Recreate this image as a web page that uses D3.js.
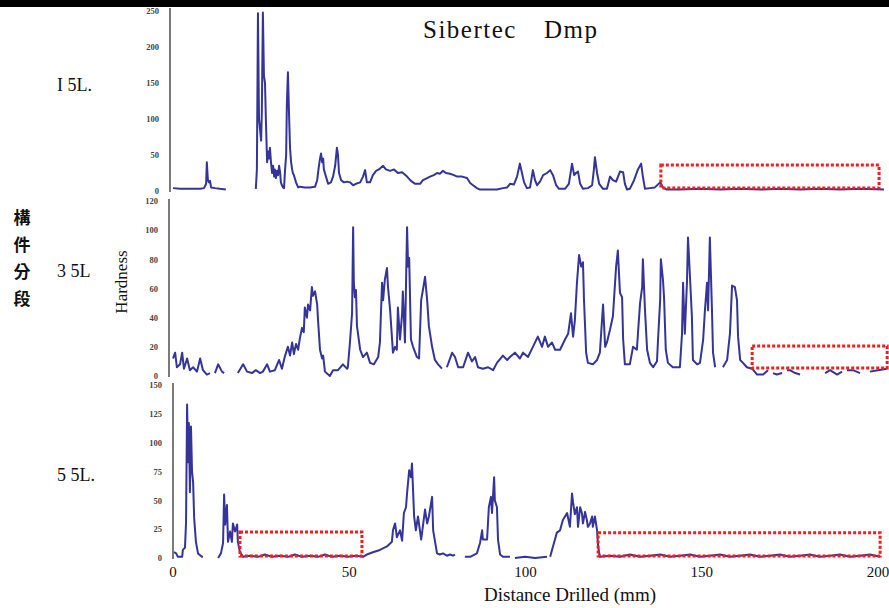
<!DOCTYPE html>
<html>
<head>
<meta charset="utf-8">
<script src="https://cdn.jsdelivr.net/npm/d3@7"></script>
<style>
  html, body { margin: 0; padding: 0; background: #fff; }
  svg { display: block; }
</style>
</head>
<body>
<div id="chart"></div>
<script>
// Drilling-resistance (hardness) profiles for three member segments.
// Distances in mm, hardness in instrument units; null marks a dropout in the trace.

const xTicks = [0, 50, 100, 150, 200];
const yTicks1 = [0, 50, 100, 150, 200, 250];
const yTicks2 = [0, 20, 40, 60, 80, 100, 120];
const yTicks3 = [0, 25, 50, 75, 100, 125, 150];

const segmentLabels = ["I 5L.", "3 5L", "5 5L."];

// Segment I 5L
const distance1 = [0, 2.0, 4.8, 7.7, 8.8, 9.4, 9.6, 9.9, 10.2, 10.5, 10.8, 11.9, 13.3, 15.0, 15.5,
  23.5, 23.8, 24.1, 24.4, 24.7, 25.0, 25.2, 25.5, 25.8, 26.1, 26.4, 26.7, 27.0, 27.2, 27.5, 27.8,
  28.1, 28.4, 28.7, 28.9, 29.2, 29.5, 29.8, 30.1, 30.4, 30.6, 30.9, 31.2, 31.5, 31.8, 32.1, 32.3,
  32.6, 32.9, 33.2, 33.5, 33.8, 34.0, 34.3, 34.9, 35.5, 36.0, 37.4, 38.9, 40.3, 40.9, 41.4, 41.7,
  42.0, 42.3, 42.6, 42.8, 43.4, 44.0, 44.8, 45.4, 46.0, 46.5, 46.8, 47.1, 47.7, 48.5, 49.4, 50.2,
  51.1, 51.9, 53.1, 53.9, 54.5, 55.0, 55.9, 56.7, 57.6, 58.4, 59.6, 60.4, 61.6, 62.7, 63.8, 65.0,
  66.4, 67.5, 68.7, 70.1, 70.9, 72.1, 72.9, 74.0, 74.9, 75.7, 76.6, 77.4, 78.6, 79.7, 80.6, 82.0,
  83.4, 84.3, 85.1, 86.2, 87.1, 89.9, 91.9, 93.6, 94.8, 95.6, 96.7, 97.6, 98.4, 99.0, 99.6, 100.4,
  101.3, 102.1, 102.7, 103.3, 104.1, 105.0, 106.1, 107.0, 107.8, 108.7, 109.5, 111.2, 112.3, 113.2,
  113.8, 114.3, 114.9, 115.5, 116.3, 117.7, 118.9, 119.4, 119.7, 120.3, 120.9, 122.0, 123.1, 124.0,
  124.8, 125.7, 126.8, 127.7, 128.2, 128.8, 129.6, 130.8, 131.9, 132.8, 133.3, 133.9, 135.3, 136.7,
  138.2, 139.0, 140.1, 143.8, 149.5, 155.2, 160.9, 166.5, 172.2, 177.9, 183.5, 189.2, 194.9, 201.7];
const hardness1 = [4, 3, 3, 3, 4, 10, 40, 15, 12, 14, 5, 4, 3, 2, null,
  3, 30, 247, 100, 85, 70, 110, 248, 160, 150, 90, 40, 55, 45, 60, 40,
  25, 35, 20, 30, 18, 28, 22, 35, 25, 12, 8, 5, 4, 30, 50, 120,
  165, 110, 60, 40, 30, 25, 22, 12, 5, 6, 5, 5, 6, 15, 35, 45,
  52, 40, 45, 30, 20, 10, 12, 20, 35, 60, 50, 25, 15, 12, 13, 12,
  8, 10, 12, 20, 29, 12, 12, 22, 28, 30, 35, 30, 28, 30, 25, 26,
  20, 14, 10, 10, 15, 18, 20, 22, 25, 24, 28, 25, 24, 22, 20, 20,
  18, 11, 8, 4, 2, 2, 2, 4, 5, 10, 9, 20, 38, 25, 12, 4,
  5, 29, 15, 8, 13, 22, 25, 29, 22, 8, 3, 3, 10, 38,
  22, 25, 27, 10, 3, 4, 8, 30, 47, 25, 10, 3, 3, 20,
  15, 13, 27, 26, 10, 2, 3, 15, 30, 38, 20, 3, 4, 5,
  12, 5, 2, 2, 3, 2, 3, 2, 3, 2, 3, 2, 3, 2];

// Segment 3 5L
const distance2 = [0, 0.6, 1.1, 2.0, 2.6, 3.1, 4.0, 4.8, 5.7, 6.8, 7.7, 8.5, 9.6, 10.5, 11.2,
  11.9, 12.8, 13.9, 14.5, 15.0, 18.4, 19.9, 21.0, 22.4, 23.5, 24.7, 25.5, 26.7, 27.5, 28.9, 30.1,
  30.9, 31.8, 32.6, 33.2, 33.8, 34.3, 34.9, 35.5, 36.0, 36.6, 37.1, 37.4, 38.0, 38.3, 38.9, 39.4,
  39.7, 40.3, 40.9, 41.1, 41.7, 42.3, 42.6, 43.1, 44.5, 45.4, 46.8, 48.2, 49.4, 49.6, 50.2, 50.8,
  51.1, 51.3, 51.6, 51.9, 52.2, 53.1, 53.9, 55.0, 55.9, 57.0, 58.2, 58.7, 59.3, 59.6, 60.1, 60.7,
  61.0, 61.6, 62.1, 62.4, 63.0, 63.5, 63.8, 64.4, 65.0, 65.2, 65.8, 66.4, 66.7, 67.0, 67.5, 68.1,
  69.2, 69.8, 70.4, 70.9, 71.5, 72.1, 72.6, 73.5, 74.3, 75.2, 76.3, 76.8, 77.7, 79.2, 80.0, 80.9,
  82.3, 83.7, 84.8, 85.7, 86.5, 87.9, 89.4, 90.8, 91.9, 93.6, 94.8, 95.6, 97.0, 98.4, 99.3, 100.7,
  102.1, 103.5, 104.7, 105.5, 106.4, 107.5, 108.4, 109.8, 111.2, 112.1, 112.9, 113.5, 114.0, 114.6,
  115.2, 115.8, 116.3, 116.6, 117.2, 117.7, 119.1, 120.3, 121.1, 122.0, 122.6, 123.1, 124.0, 124.8,
  125.7, 126.2, 126.8, 127.4, 127.7, 128.2, 129.6, 130.5, 131.6, 131.9, 132.5, 133.1, 133.3, 133.9,
  134.5, 135.3, 136.2, 137.3, 137.6, 138.2, 138.4, 139.0, 139.3, 139.8, 140.4, 141.8, 143.8, 144.4,
  144.7, 145.2, 145.8, 146.1, 146.7, 147.2, 147.5, 148.7, 149.5, 150.4, 150.9, 151.5, 151.8, 152.3,
  152.9, 153.2, 153.8, 154.3, 156.0, 157.2, 158.0, 158.6, 159.4, 160.0, 160.3, 160.9, 161.7, 162.8,
  164.3, 165.7, 167.4, 168.8, 169.5, 170.2, 171.3, 172.8, 173.5, 174.2, 175.0, 176.5, 177.9, 178.5,
  185.0, 186.4, 188.4, 189.8, 190.5, 191.2, 192.9, 194.9, 195.5, 197.7, 200.0, 202.5];
const hardness2 = [12, 16, 6, 8, 16, 5, 12, 4, 6, 3, 12, 4, 1, 2, null,
  2, 8, 3, 2, null, 2, 8, 3, 2, 4, 2, 3, 8, 3, 4, 11,
  5, 14, 20, 14, 23, 15, 22, 18, 26, 33, 30, 47, 40, 49, 45, 61,
  55, 58, 49, 40, 18, 12, 14, 3, 0, 4, 4, 8, 5, 6, 23, 43,
  102, 64, 54, 59, 34, 18, 13, 16, 9, 8, 13, 23, 64, 52, 66, 74,
  61, 45, 27, 16, 20, 18, 47, 25, 43, 58, 23, 102, 75, 81, 25, 20,
  13, 12, 52, 59, 68, 52, 34, 20, 11, 8, 5, null, 6, 16, 13, 6,
  6, 16, 10, 13, 6, 5, 6, 4, 9, 14, 11, 13, 16, 12, 16, 13,
  20, 27, 20, 27, 20, 23, 18, 18, 25, 29, 43, 27, 38, 64,
  83, 75, 78, 52, 16, 9, 8, 11, 16, 49, 20, 23, 32, 41,
  75, 86, 57, 54, 25, 8, 8, 20, 18, 29, 50, 61, 80, 45,
  18, 9, 6, 10, 25, 52, 80, 66, 54, 18, 9, 6, 6, 29,
  64, 29, 64, 95, 66, 41, 11, 8, 9, 25, 45, 64, 45, 95,
  45, 16, 6, null, 6, 11, 29, 62, 61, 52, 27, 11, 9, 6,
  5, 1, 1, 4, null, 2, 1, 2, null, 4, 4, 2, 1, null,
  2, 4, 1, 3, null, 4, 4, 2, null, 3, 4, 5];

// Segment 5 5L
const distance3 = [0.3, 0.9, 1.4, 2.6, 2.8, 3.4, 3.7, 4.0, 4.3, 4.5, 4.8, 5.1, 5.4, 5.7, 6.0,
  6.5, 7.1, 8.2, 8.5, 9.0, 12.8, 13.6, 14.2, 14.5, 14.8, 15.3, 15.6, 16.2, 16.7, 17.0, 17.6,
  18.2, 18.4, 19.0, 19.9, 21.8, 24.1, 26.1, 28.1, 30.4, 32.6, 34.6, 36.6, 38.9, 41.1, 43.1, 45.1,
  47.4, 49.6, 51.9, 53.9, 55.0, 56.7, 58.7, 60.7, 62.1, 62.4, 63.0, 63.5, 64.4, 65.0, 65.5, 66.1,
  66.4, 67.0, 67.5, 67.8, 68.4, 68.9, 69.5, 70.4, 71.5, 72.1, 72.6, 73.5, 73.8, 74.9, 75.7, 76.6,
  77.7, 78.6, 79.4, 80.0, 81.0, 82.8, 84.3, 86.2, 87.1, 87.7, 87.9, 89.1, 89.6, 90.2, 90.5, 91.1,
  91.3, 91.9, 92.2, 92.8, 93.6, 95.6, 96.5, 97.0, 99.9, 102.7, 106.1, 106.6, 107.0, 107.8, 108.9,
  109.8, 110.6, 111.8, 112.6, 113.2, 113.5, 114.0, 114.6, 114.9, 115.5, 116.0, 116.3, 116.9, 117.4,
  117.7, 118.3, 118.9, 119.1, 119.7, 120.3, 120.6, 121.1, 124.0, 126.8, 129.6, 132.5, 135.3, 138.2,
  141.0, 143.8, 146.7, 149.5, 152.3, 155.2, 158.0, 160.9, 163.7, 166.5, 169.4, 172.2, 175.0, 177.9,
  180.7, 183.5, 186.4, 189.2, 192.1, 194.9, 197.7, 200.6];
const hardness3 = [5, 4, 1, 1, 7, 9, 31, 133, 83, 117, 57, 114, 75, 66, 35,
  14, 4, 1, 1, null, 0, 4, 13, 55, 29, 46, 14, 23, 14, 30, 23,
  29, 14, 5, 1, 2, 1, 3, 1, 2, 1, 3, 1, 2, 1, 3, 1,
  2, 1, 2, 1, 3, 5, 7, 10, 14, 24, 30, 18, 24, 15, 39, 44,
  56, 76, 70, 82, 36, 24, 36, 16, 42, 30, 36, 53, 24, 4, 3, 4,
  2, 3, 2, 3, null, 1, 1, 4, 13, 24, 16, 16, 44, 53, 39, 70,
  50, 44, 16, 3, 1, 1, null, 0, 1, 0, 1, null, 1, 10, 22,
  24, 33, 39, 27, 56, 48, 38, 44, 27, 44, 39, 30, 40, 33,
  27, 30, 36, 27, 36, 24, 10, 1, 2, 1, 3, 1, 2, 3,
  1, 2, 3, 1, 2, 3, 1, 2, 3, 1, 2, 3, 1, 2,
  3, 1, 2, 3, 1, 2, 3, 1];

// Highlighted ranges: [distance from, distance to, hardness low, hardness high]
const highlight1 = [[138.4, 200.3, 4, 36]];
const highlight2 = [[164.3, 202.6, 5.5, 20.6]];
const highlight3 = [[19.0, 53.6, 1.7, 22.5], [120.6, 200.6, 1.7, 22.0]];

// ---- drawing ----
const W = 889, H = 608;
const serif = "'Liberation Serif', 'DejaVu Serif', serif";
const lineColor = "#1e1e8e";

const svg = d3.select("#chart").append("svg")
  .attr("width", W).attr("height", H)
  .attr("viewBox", `0 0 ${W} ${H}`);

// heavy rule across the top
svg.append("rect").attr("x", 0).attr("y", 0).attr("width", W).attr("height", 7).attr("fill", "#000");

const x = d3.scaleLinear().domain([0, 200]).range([173, 878]);

const panels = [
  { distance: distance1, hardness: hardness1, ticks: yTicks1, boxes: highlight1,
    label: segmentLabels[0], labelY: 91, yRange: [191, 11], axisTop: 8, axisX: 170 },
  { distance: distance2, hardness: hardness2, ticks: yTicks2, boxes: highlight2,
    label: segmentLabels[1], labelY: 277, yRange: [376, 201], axisTop: 199, axisX: 169 },
  { distance: distance3, hardness: hardness3, ticks: yTicks3, boxes: highlight3,
    label: segmentLabels[2], labelY: 481, yRange: [558, 385], axisTop: 383, axisX: 173 }
];

panels.forEach(p => {
  const y = d3.scaleLinear().domain([0, d3.max(p.ticks)]).range(p.yRange);
  const g = svg.append("g");

  // vertical axis line
  g.append("line")
    .attr("x1", p.axisX).attr("x2", p.axisX)
    .attr("y1", p.axisTop).attr("y2", y(0) + 1)
    .attr("stroke", "#7a7a7a").attr("stroke-width", 2);

  // small tick labels
  const axis = d3.axisLeft(y).tickValues(p.ticks).tickSize(0).tickPadding(0);
  const ag = g.append("g").attr("transform", `translate(${p.axisX - 11},0)`).call(axis);
  ag.select(".domain").remove();
  ag.selectAll("text")
    .attr("font-family", serif).attr("font-size", 8.5)
    .attr("fill", "#444").attr("font-weight", "bold");

  // hardness trace
  const pts = d3.zip(p.distance, p.hardness);
  const line = d3.line()
    .defined(d => d[1] !== null)
    .x(d => x(d[0]))
    .y(d => y(d[1]));
  g.append("path")
    .attr("d", line(pts))
    .attr("fill", "none")
    .attr("stroke", lineColor)
    .attr("stroke-width", 2)
    .attr("stroke-linejoin", "round")
    .attr("opacity", 0.9);

  // dotted red highlight boxes
  g.selectAll("rect.hl").data(p.boxes).join("rect")
    .attr("class", "hl")
    .attr("x", d => x(d[0]))
    .attr("y", d => y(d[3]))
    .attr("width", d => x(d[1]) - x(d[0]))
    .attr("height", d => y(d[2]) - y(d[3]))
    .attr("fill", "none")
    .attr("stroke", "#ff1a1a")
    .attr("stroke-width", 3)
    .attr("stroke-dasharray", "3,2");

  // segment label
  svg.append("text")
    .attr("x", 57).attr("y", p.labelY)
    .attr("font-family", serif).attr("font-size", 18)
    .attr("fill", "#111")
    .style("white-space", "pre")
    .text(p.label);
});

// x tick labels under the last panel
svg.append("g").selectAll("text").data(xTicks).join("text")
  .attr("x", d => x(d)).attr("y", 577)
  .attr("text-anchor", "middle")
  .attr("font-family", serif).attr("font-size", 15)
  .attr("fill", "#111")
  .text(d => d);

// axis titles
svg.append("text")
  .attr("x", 570).attr("y", 601)
  .attr("text-anchor", "middle")
  .attr("font-family", serif).attr("font-size", 19)
  .attr("fill", "#111")
  .text("Distance Drilled (mm)");

svg.append("text")
  .attr("transform", "translate(127,282) rotate(-90)")
  .attr("text-anchor", "middle")
  .attr("font-family", serif).attr("font-size", 17)
  .attr("fill", "#111")
  .text("Hardness");

// chart title
svg.append("text")
  .attr("x", 423).attr("y", 38)
  .attr("font-family", serif).attr("font-size", 25)
  .attr("letter-spacing", 1.5)
  .attr("fill", "#111")
  .text("Sibertec");
svg.append("text")
  .attr("x", 544).attr("y", 38)
  .attr("font-family", serif).attr("font-size", 25)
  .attr("letter-spacing", 1.5)
  .attr("fill", "#111")
  .text("Dmp");

// vertical group caption
const caption = ["構", "件", "分", "段"];
svg.append("g").selectAll("text").data(caption).join("text")
  .attr("x", 22)
  .attr("y", (d, i) => 224 + i * 27)
  .attr("text-anchor", "middle")
  .attr("font-family", "'Noto Sans CJK TC', 'Noto Sans CJK SC', sans-serif")
  .attr("font-size", 17)
  .attr("font-weight", 700)
  .attr("fill", "#111")
  .text(d => d);
</script>
</body>
</html>
